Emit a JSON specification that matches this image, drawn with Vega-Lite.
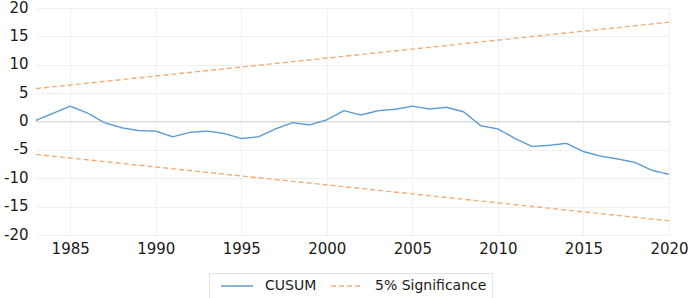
{
  "$schema": "https://vega.github.io/schema/vega-lite/v6.json",
  "autosize": {"type": "none"},
  "width": 633,
  "height": 227,
  "padding": {"left": 36, "top": 8, "right": 23, "bottom": 63},
  "background": "#ffffff",
  "config": {
    "view": {"stroke": null},
    "font": "DejaVu Sans",
    "axis": {"labelFont": "DejaVu Sans", "labelFontSize": 15, "labelColor": "#1a1a1a", "domain": false, "ticks": false, "gridColor": "#f0f0f0", "gridWidth": 1, "title": null},
    "legend": {
      "orient": "none", "legendX": 173, "legendY": 265, "direction": "horizontal",
      "strokeColor": "#e3e3e3", "padding": 5, "symbolType": "M-0.14,0H4.43", "symbolSize": 196,
      "symbolStrokeWidth": 1.4, "labelFont": "DejaVu Sans", "labelFontSize": 14, "labelColor": "#1a1a1a",
      "labelOffset": 35, "columnPadding": 7, "title": null
    }
  },
  "data": {
    "values": [
      {"year": 1983, "value": 0.2, "series": "CUSUM", "part": "c"},
      {"year": 1984, "value": 1.45, "series": "CUSUM", "part": "c"},
      {"year": 1985, "value": 2.7, "series": "CUSUM", "part": "c"},
      {"year": 1986, "value": 1.5, "series": "CUSUM", "part": "c"},
      {"year": 1987, "value": -0.2, "series": "CUSUM", "part": "c"},
      {"year": 1988, "value": -1.1, "series": "CUSUM", "part": "c"},
      {"year": 1989, "value": -1.6, "series": "CUSUM", "part": "c"},
      {"year": 1990, "value": -1.7, "series": "CUSUM", "part": "c"},
      {"year": 1991, "value": -2.7, "series": "CUSUM", "part": "c"},
      {"year": 1992, "value": -1.9, "series": "CUSUM", "part": "c"},
      {"year": 1993, "value": -1.7, "series": "CUSUM", "part": "c"},
      {"year": 1994, "value": -2.1, "series": "CUSUM", "part": "c"},
      {"year": 1995, "value": -3.0, "series": "CUSUM", "part": "c"},
      {"year": 1996, "value": -2.7, "series": "CUSUM", "part": "c"},
      {"year": 1997, "value": -1.3, "series": "CUSUM", "part": "c"},
      {"year": 1998, "value": -0.2, "series": "CUSUM", "part": "c"},
      {"year": 1999, "value": -0.6, "series": "CUSUM", "part": "c"},
      {"year": 2000, "value": 0.3, "series": "CUSUM", "part": "c"},
      {"year": 2001, "value": 1.9, "series": "CUSUM", "part": "c"},
      {"year": 2002, "value": 1.15, "series": "CUSUM", "part": "c"},
      {"year": 2003, "value": 1.9, "series": "CUSUM", "part": "c"},
      {"year": 2004, "value": 2.15, "series": "CUSUM", "part": "c"},
      {"year": 2005, "value": 2.7, "series": "CUSUM", "part": "c"},
      {"year": 2006, "value": 2.2, "series": "CUSUM", "part": "c"},
      {"year": 2007, "value": 2.5, "series": "CUSUM", "part": "c"},
      {"year": 2008, "value": 1.7, "series": "CUSUM", "part": "c"},
      {"year": 2009, "value": -0.75, "series": "CUSUM", "part": "c"},
      {"year": 2010, "value": -1.3, "series": "CUSUM", "part": "c"},
      {"year": 2011, "value": -3.0, "series": "CUSUM", "part": "c"},
      {"year": 2012, "value": -4.4, "series": "CUSUM", "part": "c"},
      {"year": 2013, "value": -4.2, "series": "CUSUM", "part": "c"},
      {"year": 2014, "value": -3.85, "series": "CUSUM", "part": "c"},
      {"year": 2015, "value": -5.3, "series": "CUSUM", "part": "c"},
      {"year": 2016, "value": -6.1, "series": "CUSUM", "part": "c"},
      {"year": 2017, "value": -6.6, "series": "CUSUM", "part": "c"},
      {"year": 2018, "value": -7.2, "series": "CUSUM", "part": "c"},
      {"year": 2019, "value": -8.6, "series": "CUSUM", "part": "c"},
      {"year": 2020, "value": -9.3, "series": "CUSUM", "part": "c"},
      {"year": 1983, "value": 5.8, "series": "5% Significance", "part": "upper"},
      {"year": 2020, "value": 17.5, "series": "5% Significance", "part": "upper"},
      {"year": 1983, "value": -5.8, "series": "5% Significance", "part": "lower"},
      {"year": 2020, "value": -17.5, "series": "5% Significance", "part": "lower"}
    ]
  },
  "encoding": {
    "x": {
      "field": "year", "type": "quantitative",
      "scale": {"domain": [1983, 2020], "nice": false, "zero": false},
      "axis": {"values": [1985, 1990, 1995, 2000, 2005, 2010, 2015, 2020], "format": "d", "labelPadding": 6, "labelFlush": false, "labelOverlap": false}
    },
    "y": {
      "field": "value", "type": "quantitative",
      "scale": {"domain": [-20, 20], "nice": false},
      "axis": {"values": [-20, -15, -10, -5, 0, 5, 10, 15, 20], "labelExpr": "'' + datum.value", "labelPadding": 8, "labelOffset": -1, "labelFlush": false}
    }
  },
  "layer": [
    {
      "mark": {"type": "rule", "color": "#dcdcdc", "strokeWidth": 1},
      "encoding": {"y": {"datum": 0}, "x": {"value": 0}, "x2": {"value": 634}}
    },
    {
      "mark": {"type": "line", "strokeWidth": 1.4},
      "encoding": {
        "color": {
          "field": "series", "type": "nominal",
          "scale": {"domain": ["CUSUM", "5% Significance"], "range": ["#5b9bd5", "#f5ad78"]},
          "legend": {"title": null}
        },
        "strokeDash": {
          "field": "series", "type": "nominal",
          "scale": {"domain": ["CUSUM", "5% Significance"], "range": [[1, 0], [5, 3]]},
          "legend": {"title": null}
        },
        "detail": {"field": "part"},
        "order": {"field": "year", "type": "quantitative"}
      }
    }
  ]
}
